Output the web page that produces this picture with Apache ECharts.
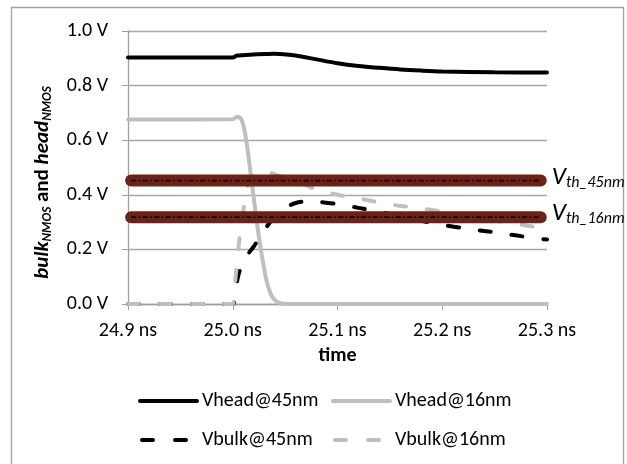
<!DOCTYPE html>
<html>
<head>
<meta charset="utf-8">
<title>bulk and head NMOS</title>
<script src="https://cdn.jsdelivr.net/npm/echarts@6/dist/echarts.min.js"></script>
<style>
    html, body { margin: 0; padding: 0; background: #fff; }
    #chart { width: 627px; height: 464px; }
</style>
</head>
<body>
<div id="chart"></div>
<script>
// axis ranges (ns / V)
var timeMin = 24.9, timeMax = 25.3, timeStep = 0.1;
var voltMin = 0, voltMax = 1.0, voltStep = 0.2;

// Vhead@45nm
var vhead45Time = [24.9, 25.0, 25.004, 25.02, 25.04, 25.06, 25.08, 25.1, 25.12, 25.14, 25.16, 25.18, 25.2, 25.25, 25.3];
var vhead45Volt = [0.903, 0.903, 0.910, 0.914, 0.917, 0.910, 0.896, 0.882, 0.872, 0.865, 0.859, 0.855, 0.852, 0.849, 0.848];

// Vhead@16nm
var vhead16Time = [24.9, 25.0, 25.004, 25.008, 25.011, 25.014, 25.017, 25.02, 25.023, 25.026, 25.029, 25.032, 25.035, 25.038, 25.042, 25.048, 25.06, 25.3];
var vhead16Volt = [0.676, 0.677, 0.686, 0.678, 0.64, 0.57, 0.48, 0.39, 0.30, 0.22, 0.15, 0.09, 0.05, 0.024, 0.008, 0.001, 0, 0];

// Vbulk@45nm
var vbulk45Time = [24.9, 25.0, 25.002, 25.005, 25.01, 25.015, 25.02, 25.025, 25.03, 25.04, 25.05, 25.06, 25.07, 25.08, 25.1, 25.12, 25.15, 25.18, 25.2, 25.225, 25.255, 25.285, 25.3];
var vbulk45Volt = [0, 0, 0.03, 0.10, 0.155, 0.185, 0.21, 0.24, 0.27, 0.32, 0.352, 0.37, 0.376, 0.375, 0.366, 0.352, 0.33, 0.305, 0.29, 0.275, 0.26, 0.243, 0.236];

// Vbulk@16nm
var vbulk16Time = [24.9, 25.0, 25.001, 25.004, 25.007, 25.01, 25.013, 25.017, 25.022, 25.03, 25.04, 25.06, 25.08, 25.1, 25.12, 25.15, 25.18, 25.2, 25.25, 25.3];
var vbulk16Volt = [0, 0, 0.03, 0.15, 0.26, 0.34, 0.41, 0.46, 0.482, 0.485, 0.475, 0.45, 0.42, 0.40, 0.387, 0.365, 0.35, 0.338, 0.306, 0.275];

// threshold voltages
var vthTime = [24.903, 25.294];
var vth45Volt = [0.452, 0.452];
var vth16Volt = [0.318, 0.318];

var legendNames = ['Vhead@45nm', 'Vhead@16nm', 'Vbulk@45nm', 'Vbulk@16nm'];

var FONT = 'Carlito, Calibri, Lato, sans-serif';
var DASH = [11, 21];

function pairs(t, v) {
    return t.map(function (x, i) { return [x, v[i]]; });
}

function curve(name, t, v, color, type) {
    return {
        name: name,
        type: 'line',
        data: pairs(t, v),
        symbol: 'none',
        smooth: 0.3,
        lineStyle: { color: color, width: 4, type: type, cap: 'round' },
        itemStyle: { color: color }
    };
}

function vthBand(v, label) {
    return {
        name: label,
        type: 'line',
        data: pairs(vthTime, v),
        symbol: 'none',
        clip: false,
        lineStyle: { color: '#6b2318', width: 12, cap: 'round' },
        endLabel: {
            show: true,
            distance: 11,
            offset: [0, -3],
            formatter: '{v|V}{s|' + label + '}',
            rich: {
                v: { fontFamily: FONT, fontSize: 25, fontStyle: 'italic', color: '#000' },
                s: { fontFamily: FONT, fontSize: 16, fontStyle: 'italic', color: '#000', padding: [10, 0, 0, 0] }
            }
        }
    };
}

function vthDots(v) {
    return {
        type: 'line',
        data: pairs(vthTime, v),
        symbol: 'none',
        clip: false,
        lineStyle: { color: '#160604', width: 1.8, type: [5, 2.5, 1.5, 2.5] }
    };
}

function legendItem(name, left, top, dash) {
    return {
        data: [name],
        left: left,
        top: top,
        itemWidth: 57,
        itemHeight: 14,
        itemGap: 5,
        selectedMode: false,
        itemStyle: { opacity: 0 },
        lineStyle: { width: 4, cap: 'round', type: dash ? [11, 22] : 'solid', dashOffset: dash ? -2 : 0 },
        textStyle: { fontFamily: FONT, fontSize: 20, color: '#000' }
    };
}

var chart = echarts.init(document.getElementById('chart'));

var option = {
    animation: false,
    backgroundColor: '#fff',
    graphic: [{
        type: 'rect',
        silent: true,
        z: -10,
        shape: { x: 11.5, y: 7.5, width: 612, height: 480 },
        style: { fill: 'none', stroke: '#a3a3a3', lineWidth: 1.3 }
    }],
    grid: { left: 128, right: 80, top: 31, bottom: 160 },
    legend: [
        legendItem(legendNames[0], 133, 386, false),
        legendItem(legendNames[1], 326, 386, false),
        legendItem(legendNames[2], 133, 425, true),
        legendItem(legendNames[3], 326, 425, true)
    ],
    xAxis: {
        type: 'value',
        min: timeMin,
        max: timeMax,
        interval: timeStep,
        name: 'time',
        nameLocation: 'middle',
        nameGap: 39,
        nameTextStyle: { fontFamily: FONT, fontSize: 20, fontWeight: 'bold', color: '#000' },
        axisLine: { lineStyle: { color: '#a0a0a0', width: 1.3 } },
        axisTick: { show: true, length: 6, lineStyle: { color: '#a0a0a0' } },
        axisLabel: {
            margin: 17,
            fontFamily: FONT,
            fontSize: 20,
            color: '#000',
            formatter: function (val) { return val.toFixed(1) + ' ns'; }
        },
        splitLine: { show: false }
    },
    yAxis: {
        type: 'value',
        min: voltMin,
        max: voltMax,
        interval: voltStep,
        name: '{b|bulk}{s|NMOS}{n| and }{b|head}{s|NMOS}',
        nameLocation: 'middle',
        nameRotate: 90,
        nameGap: 74,
        nameTextStyle: {
            padding: [0, 30, 0, 0],
            rich: {
                b: { fontFamily: FONT, fontSize: 21, fontWeight: 'bold', fontStyle: 'italic', color: '#000' },
                n: { fontFamily: FONT, fontSize: 21, fontWeight: 'bold', color: '#000' },
                s: { fontFamily: FONT, fontSize: 13, fontWeight: 'bold', fontStyle: 'italic', color: '#000', padding: [10, 0, 0, 0] }
            }
        },
        axisLine: { show: true, lineStyle: { color: '#a0a0a0', width: 1.3 } },
        axisTick: { show: true, length: 6, lineStyle: { color: '#a0a0a0' } },
        axisLabel: {
            margin: 20,
            fontFamily: FONT,
            fontSize: 20,
            color: '#000',
            formatter: function (val) { return val.toFixed(1) + ' V'; }
        },
        splitLine: { lineStyle: { color: '#a6a6a6', width: 1.3 } }
    },
    series: [
        curve(legendNames[0], vhead45Time, vhead45Volt, '#000000', 'solid'),
        curve(legendNames[1], vhead16Time, vhead16Volt, '#bfbfbf', 'solid'),
        curve(legendNames[2], vbulk45Time, vbulk45Volt, '#000000', DASH),
        curve(legendNames[3], vbulk16Time, vbulk16Volt, '#bfbfbf', DASH),
        vthBand(vth45Volt, 'th_45nm'),
        vthDots(vth45Volt),
        vthBand(vth16Volt, 'th_16nm'),
        vthDots(vth16Volt)
    ]
};

chart.setOption(option);
</script>
</body>
</html>
